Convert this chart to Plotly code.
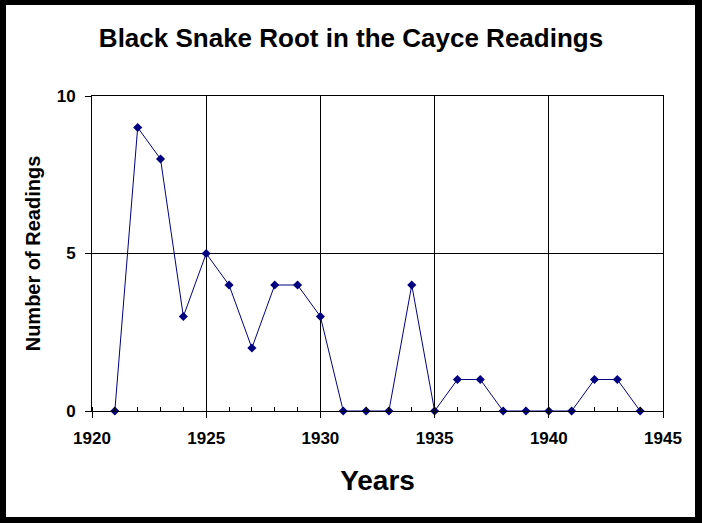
import plotly.graph_objects as go

# readings per year
years = [1921, 1922, 1923, 1924, 1925, 1926, 1927, 1928, 1929, 1930, 1931, 1932,
         1933, 1934, 1935, 1936, 1937, 1938, 1939, 1940, 1941, 1942, 1943, 1944]
readings = [0, 9, 8, 3, 5, 4, 2, 4, 4, 3, 0, 0,
            0, 4, 0, 1, 1, 0, 0, 0, 0, 1, 1, 0]

x_ticks = [1920, 1925, 1930, 1935, 1940, 1945]
y_ticks = [0, 5, 10]

W, H = 702, 523
L, R, T, B = 92, 39, 96, 112
pw, ph = W - L - R, H - T - B

navy = "#000080"
font = "Liberation Sans, Arial, sans-serif"

fig = go.Figure()
fig.add_trace(go.Scatter(
    x=years, y=readings, mode="lines+markers",
    line=dict(color=navy, width=1),
    marker=dict(symbol="diamond", size=7, color=navy),
    showlegend=False, cliponaxis=False,
))

fig.update_layout(
    width=W, height=H,
    margin=dict(l=L, r=R, t=T, b=B),
    paper_bgcolor="black",
    plot_bgcolor="white",
    font=dict(family=font, color="black"),
    title=dict(text="<b>Black Snake Root in the Cayce Readings</b>",
               font=dict(size=26), x=0.5, xanchor="center",
               y=1 - 38 / H, yanchor="middle", yref="container"),
    xaxis=dict(
        range=[1920, 1945], tickvals=x_ticks, ticks="outside", ticklen=6,
        tickcolor="black", tickwidth=1,
        minor=dict(dtick=1, tick0=1920, ticks="inside", ticklen=4,
                   tickcolor="black", showgrid=False),
        showgrid=True, gridcolor="black", gridwidth=1,
        showline=True, linecolor="black", linewidth=1, mirror=True,
        zeroline=False,
        tickfont=dict(size=17, weight="bold"), ticklabelstandoff=6,
        title=dict(text="<b>Years</b>", font=dict(size=28), standoff=22),
    ),
    xaxis2=dict(
        range=[1920, 1945], overlaying="x", anchor="y", side="bottom",
        dtick=1, tick0=1920, ticks="outside", ticklen=4, tickcolor="black",
        showticklabels=False, showgrid=False, zeroline=False, showline=False,
    ),
    yaxis=dict(
        range=[0, 10], tickvals=y_ticks, ticks="outside", ticklen=6,
        tickcolor="black", tickwidth=1,
        showgrid=True, gridcolor="black", gridwidth=1,
        showline=True, linecolor="black", linewidth=1, mirror=True,
        zeroline=False,
        tickfont=dict(size=17, weight="bold"), ticklabelstandoff=6,
        title=dict(text="<b>Number of Readings</b>", font=dict(size=20),
                   standoff=10),
    ),
    shapes=[dict(
        type="rect", xref="paper", yref="paper", layer="below",
        x0=(6 - L) / pw, x1=(695 - L) / pw,
        y0=(H - B - 517) / ph, y1=(H - B - 5) / ph,
        fillcolor="white", line=dict(width=0),
    )],
)

# drop the default body margin so the figure sits at the window corner
fig.write_html("out.html", config={"displayModeBar": False},
               post_script="document.body.style.margin='0';")
